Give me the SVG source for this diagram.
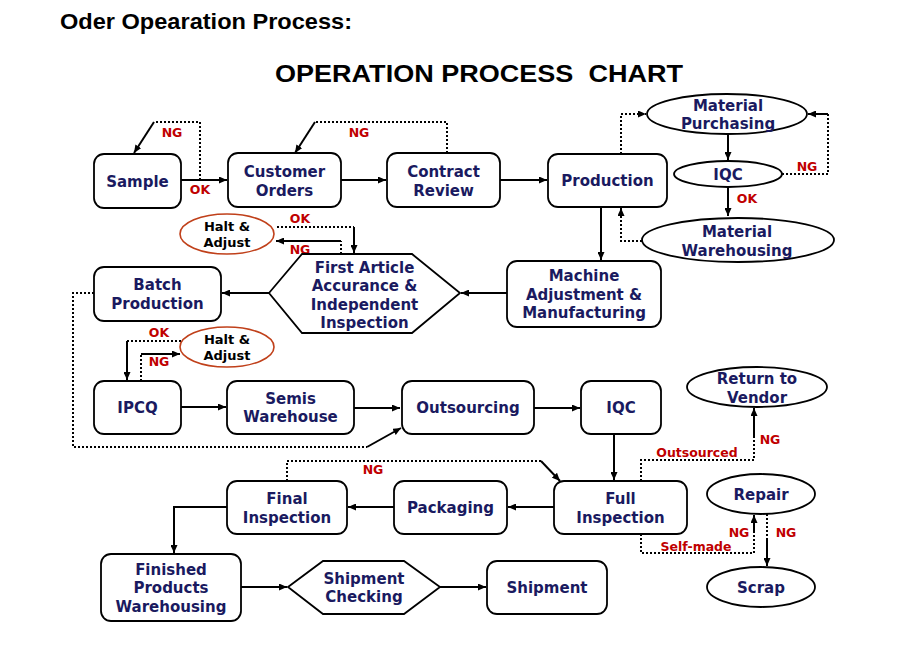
<svg xmlns="http://www.w3.org/2000/svg" width="915" height="660" viewBox="0 0 915 660">
<defs>
<marker id="a" viewBox="0 0 8 7" refX="8" refY="3.5" markerWidth="8" markerHeight="7" markerUnits="userSpaceOnUse" orient="auto"><path d="M0,0 L8,3.5 L0,7 z" fill="#000"/></marker>
<style>
.box{fill:#fff;stroke:#000;stroke-width:1.8}
.halt{fill:#fff;stroke:#c0401a;stroke-width:1.6}
.t{font-family:"DejaVu Sans",Verdana,sans-serif;font-weight:bold;font-size:15px;fill:#1a1a60;text-anchor:middle}
.h{font-family:"DejaVu Sans",Verdana,sans-serif;font-weight:bold;font-size:13px;fill:#000;text-anchor:middle}
.r{font-family:"DejaVu Sans",Verdana,sans-serif;font-weight:bold;font-size:12.5px;fill:#c00000;text-anchor:middle}
.s{fill:none;stroke:#000;stroke-width:2}
.d{fill:none;stroke:#000;stroke-width:2;stroke-dasharray:2,2}
.ar{marker-end:url(#a)}
</style>
</defs>
<rect width="915" height="660" fill="#fff"/>
<text x="60" y="29" font-family="'Liberation Sans',Arial,sans-serif" font-weight="bold" font-size="22" textLength="292" lengthAdjust="spacingAndGlyphs">Oder Opearation Process:</text>
<text x="275" y="82" font-family="'Liberation Sans',Arial,sans-serif" font-weight="bold" font-size="24" textLength="408" lengthAdjust="spacingAndGlyphs" xml:space="preserve">OPERATION PROCESS  CHART</text>

<g id="connectors">
<path class="s ar" d="M181,180 H227"/>
<path class="d" d="M200,180 V122 H154"/>
<path class="s ar" d="M154,122 L134,153"/>
<path class="s ar" d="M341,180 H386"/>
<path class="d" d="M447,153 V122 H315"/>
<path class="s ar" d="M315,122 L295,153"/>
<path class="s ar" d="M500,180 H547"/>
<path class="d ar" d="M621,154 V114 H646"/>
<path class="s ar" d="M728,134 V160"/>
<path class="d" d="M782,174 H828 V114"/>
<path class="s ar" d="M828,114 H808"/>
<path class="s ar" d="M728,187 V216"/>
<path class="d" d="M642,241 H621 V218"/>
<path class="s ar" d="M621,218 V208"/>
<path class="s ar" d="M601,207 V260"/>
<path class="s ar" d="M507,293 H461"/>
<path class="s ar" d="M269,293 H222"/>
<path class="d" d="M277,227 H354"/>
<path class="s ar" d="M354,227 V253"/>
<path class="d" d="M341,254 V241"/>
<path class="s ar" d="M341,241 H276"/>
<path class="d" d="M94,293 H73 V447 H367"/>
<path class="s ar" d="M367,447 L401,428"/>
<path class="d" d="M181,341 H127"/>
<path class="s ar" d="M127,341 V380"/>
<path class="d" d="M141,381 V354"/>
<path class="s ar" d="M141,354 H180"/>
<path class="s ar" d="M181,407 H226"/>
<path class="s ar" d="M354,408 H400"/>
<path class="s ar" d="M534,408 H580"/>
<path class="s ar" d="M614,434 V480"/>
<path class="s ar" d="M554,507 H508"/>
<path class="s ar" d="M394,507 H348"/>
<path class="d" d="M287,481 V461 H541"/>
<path class="s ar" d="M541,461 L560,481"/>
<path class="s ar" d="M227,507 H174 V553"/>
<path class="s ar" d="M241,587 H287"/>
<path class="s ar" d="M440,587 H486"/>
<path class="d" d="M641,481 V460 H754 V438"/>
<path class="s ar" d="M754,438 V408"/>
<path class="d" d="M641,534 V553 H754 V533"/>
<path class="s ar" d="M754,533 V515"/>
<path class="d" d="M767,514 V540"/>
<path class="s ar" d="M767,540 V566"/>
<text class="r" x="172" y="137">NG</text>
<text class="r" x="200" y="194">OK</text>
<text class="r" x="359" y="137">NG</text>
<text class="r" x="300" y="223">OK</text>
<text class="r" x="300" y="254">NG</text>
<text class="r" x="807" y="171">NG</text>
<text class="r" x="747" y="203">OK</text>
<text class="r" x="159" y="337">OK</text>
<text class="r" x="159" y="366">NG</text>
<text class="r" x="373" y="474">NG</text>
<text class="r" x="770" y="444">NG</text>
<text class="r" x="697" y="457">Outsourced</text>
<text class="r" x="696" y="551">Self-made</text>
<text class="r" x="739" y="537">NG</text>
<text class="r" x="786" y="537">NG</text>
</g>

<g id="sample"><rect class="box" x="94" y="154" width="87" height="54" rx="10"/><text class="t" x="137.5" y="186.5">Sample</text></g>
<g id="customer-orders"><rect class="box" x="228" y="153" width="113" height="54" rx="10"/><text class="t" x="284.5" y="176.5">Customer</text><text class="t" x="284.5" y="195.5">Orders</text></g>
<g id="contract-review"><rect class="box" x="387" y="153" width="113" height="54" rx="10"/><text class="t" x="443.5" y="176.5">Contract</text><text class="t" x="443.5" y="195.5">Review</text></g>
<g id="production"><rect class="box" x="548" y="154" width="119" height="53" rx="10"/><text class="t" x="607.5" y="186">Production</text></g>
<g id="material-purchasing"><ellipse class="box" cx="727" cy="114" rx="80" ry="20"/><text class="t" x="728" y="110.5">Material</text><text class="t" x="728" y="128.5">Purchasing</text></g>
<g id="iqc-material"><ellipse class="box" cx="728" cy="174" rx="54" ry="13"/><text class="t" x="728" y="180">IQC</text></g>
<g id="material-warehousing"><ellipse class="box" cx="738" cy="240" rx="96" ry="22"/><text class="t" x="737" y="237">Material</text><text class="t" x="737" y="255.5">Warehousing</text></g>
<g id="machine-adjustment"><rect class="box" x="507" y="261" width="154" height="66" rx="10"/><text class="t" x="584" y="281">Machine</text><text class="t" x="584" y="299.5">Adjustment &amp;</text><text class="t" x="584" y="318">Manufacturing</text></g>
<g id="first-article"><polygon class="box" points="269,293 302,254 412,254 460,293 412,333 302,333"/><text class="t" x="364.5" y="272.5">First Article</text><text class="t" x="364.5" y="291">Accurance &amp;</text><text class="t" x="364.5" y="309.5">Independent</text><text class="t" x="364.5" y="328">Inspection</text></g>
<g id="halt-adjust-1"><ellipse class="halt" cx="227" cy="234" rx="47" ry="20"/><text class="h" x="227" y="230.5">Halt &amp;</text><text class="h" x="227" y="246.5">Adjust</text></g>
<g id="batch-production"><rect class="box" x="94" y="267" width="127" height="54" rx="10"/><text class="t" x="157.5" y="290">Batch</text><text class="t" x="157.5" y="309">Production</text></g>
<g id="halt-adjust-2"><ellipse class="halt" cx="227" cy="347" rx="47" ry="20"/><text class="h" x="227" y="343.5">Halt &amp;</text><text class="h" x="227" y="359.5">Adjust</text></g>
<g id="ipcq"><rect class="box" x="94" y="381" width="87" height="53" rx="10"/><text class="t" x="137.5" y="413">IPCQ</text></g>
<g id="semis-warehouse"><rect class="box" x="227" y="381" width="127" height="53" rx="10"/><text class="t" x="290.5" y="403.5">Semis</text><text class="t" x="290.5" y="422">Warehouse</text></g>
<g id="outsourcing"><rect class="box" x="402" y="381" width="132" height="53" rx="10"/><text class="t" x="468" y="413">Outsourcing</text></g>
<g id="iqc"><rect class="box" x="581" y="381" width="80" height="53" rx="10"/><text class="t" x="621" y="413">IQC</text></g>
<g id="return-to-vendor"><ellipse class="box" cx="757" cy="387" rx="70" ry="20"/><text class="t" x="757" y="384">Return to</text><text class="t" x="757" y="402.5">Vendor</text></g>
<g id="full-inspection"><rect class="box" x="554" y="481" width="133" height="53" rx="10"/><text class="t" x="620.5" y="504">Full</text><text class="t" x="620.5" y="522.5">Inspection</text></g>
<g id="packaging"><rect class="box" x="394" y="481" width="113" height="53" rx="10"/><text class="t" x="450.5" y="513">Packaging</text></g>
<g id="final-inspection"><rect class="box" x="227" y="481" width="120" height="53" rx="10"/><text class="t" x="287" y="504">Final</text><text class="t" x="287" y="522.5">Inspection</text></g>
<g id="repair"><ellipse class="box" cx="761" cy="494" rx="54" ry="20"/><text class="t" x="761" y="499.5">Repair</text></g>
<g id="scrap"><ellipse class="box" cx="761" cy="587" rx="54" ry="20"/><text class="t" x="761" y="592.5">Scrap</text></g>
<g id="finished-products"><rect class="box" x="101" y="554" width="140" height="67" rx="10"/><text class="t" x="171" y="574.5">Finished</text><text class="t" x="171" y="593">Products</text><text class="t" x="171" y="611.5">Warehousing</text></g>
<g id="shipment-checking"><polygon class="box" points="288,587 323,561 404,561 440,587 404,614 323,614"/><text class="t" x="364" y="583.5">Shipment</text><text class="t" x="364" y="602">Checking</text></g>
<g id="shipment"><rect class="box" x="487" y="561" width="120" height="53" rx="10"/><text class="t" x="547" y="593">Shipment</text></g>
</svg>
